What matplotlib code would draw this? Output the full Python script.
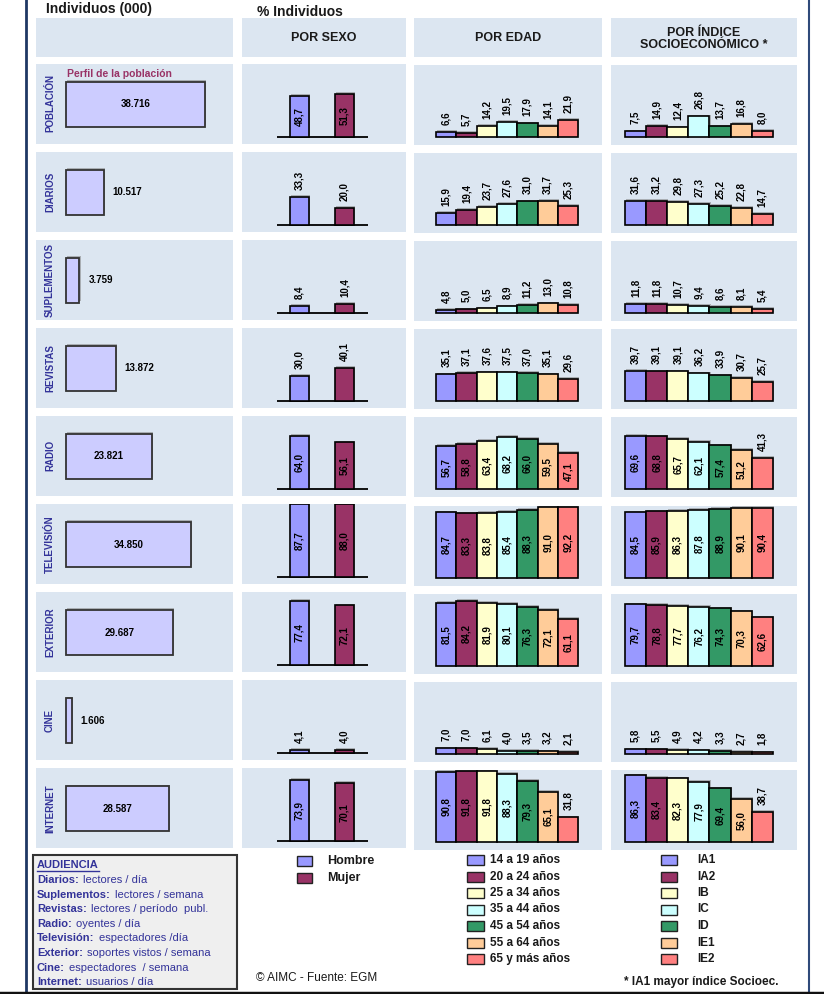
import matplotlib
matplotlib.use("Agg")
import matplotlib.pyplot as plt
from matplotlib.patches import Rectangle
from matplotlib.patheffects import SimplePatchShadow, Normal

plt.rcParams['font.family'] = ['Liberation Sans', 'DejaVu Sans']

# datos
medios = ['POBLACIÓN', 'DIARIOS', 'SUPLEMENTOS', 'REVISTAS', 'RADIO',
          'TELEVISIÓN', 'EXTERIOR', 'CINE', 'INTERNET']
individuos = [38716, 10517, 3759, 13872, 23821, 34850, 29687, 1606, 28587]

sexo_labels = ['Hombre', 'Mujer']
sexo = [
    [48.7, 51.3],
    [33.3, 20.0],
    [8.4, 10.4],
    [30.0, 40.1],
    [64.0, 56.1],
    [87.7, 88.0],
    [77.4, 72.1],
    [4.1, 4.0],
    [73.9, 70.1],
]

edad_labels = ['14 a 19 años', '20 a 24 años', '25 a 34 años', '35 a 44 años',
               '45 a 54 años', '55 a 64 años', '65 y más años']
edad = [
    [6.6, 5.7, 14.2, 19.5, 17.9, 14.1, 21.9],
    [15.9, 19.4, 23.7, 27.6, 31.0, 31.7, 25.3],
    [4.8, 5.0, 6.5, 8.9, 11.2, 13.0, 10.8],
    [35.1, 37.1, 37.6, 37.5, 37.0, 35.1, 29.6],
    [56.7, 58.8, 63.4, 68.2, 66.0, 59.5, 47.1],
    [84.7, 83.3, 83.8, 85.4, 88.3, 91.0, 92.2],
    [81.5, 84.2, 81.9, 80.1, 76.3, 72.1, 61.1],
    [7.0, 7.0, 6.1, 4.0, 3.5, 3.2, 2.1],
    [90.8, 91.8, 91.8, 88.3, 79.3, 65.1, 31.8],
]

ise_labels = ['IA1', 'IA2', 'IB', 'IC', 'ID', 'IE1', 'IE2']
ise = [
    [7.5, 14.9, 12.4, 26.8, 13.7, 16.8, 8.0],
    [31.6, 31.2, 29.8, 27.3, 25.2, 22.8, 14.7],
    [11.8, 11.8, 10.7, 9.4, 8.6, 8.1, 5.4],
    [39.7, 39.1, 39.1, 36.2, 33.9, 30.7, 25.7],
    [69.6, 68.8, 65.7, 62.1, 57.4, 51.2, 41.3],
    [84.5, 85.9, 86.3, 87.8, 88.9, 90.1, 90.4],
    [79.7, 78.8, 77.7, 76.2, 74.3, 70.3, 62.6],
    [5.8, 5.5, 4.9, 4.2, 3.3, 2.7, 1.8],
    [86.3, 83.4, 82.3, 77.9, 69.4, 56.0, 38.7],
]

aud_medio = ['Diarios:', 'Suplementos:', 'Revistas:', 'Radio:', 'Televisión:',
             'Exterior:', 'Cine:', 'Internet:']
aud_unidad = ['lectores / día', 'lectores / semana', 'lectores / período  publ.',
              'oyentes / día', 'espectadores /día', 'soportes vistos / semana',
              'espectadores  / semana', 'usuarios / día']

colores = ['#9999FF', '#993366', '#FFFFCC', '#CCFFFF', '#339966', '#FFCC99', '#FF8080']
fondo = '#DCE6F1'
azul = '#333399'
texto = '#1A1A1A'

W, H = 824, 994
fig = plt.figure(figsize=(W / 100, H / 100), dpi=100)


def px_axes(x0, y0, x1, y1):
    ax = fig.add_axes([x0 / W, 1 - y1 / H, (x1 - x0) / W, (y1 - y0) / H])
    ax.set_facecolor(fondo)
    for s in ax.spines.values():
        s.set_visible(False)
    ax.set_xticks([])
    ax.set_yticks([])
    return ax


def fmt(v):
    return f"{v:.1f}".replace('.', ',')


sombra = [SimplePatchShadow(offset=(0.8, 1.2), shadow_rgbFace='#777777', alpha=0.5), Normal()]

# capa de fondo en pixeles
bg = fig.add_axes([0, 0, 1, 1])
bg.set_xlim(0, W)
bg.set_ylim(H, 0)
bg.axis('off')

# bordes
bg.plot([26, 26], [0, 992], color='#1F3864', lw=2)
bg.plot([809, 809], [0, 992], color='#2F4A7A', lw=1.5)
bg.plot([0, W], [992.5, 992.5], color='#111111', lw=2.5)

# cabeceras
cols = [(36, 233), (242, 406), (414, 602), (611, 797)]
for (x0, x1) in cols:
    bg.add_patch(Rectangle((x0, 18), x1 - x0, 39, facecolor=fondo, edgecolor='none'))
bg.text(46, 9, 'Individuos (000)', fontsize=10, fontweight='bold', color=texto, va='center')
bg.text(257, 12, '% Individuos', fontsize=10, fontweight='bold', color=texto, va='center')
bg.text(324, 38, 'POR SEXO', fontsize=9, fontweight='bold', color=texto, ha='center', va='center')
bg.text(508, 38, 'POR EDAD', fontsize=9, fontweight='bold', color=texto, ha='center', va='center')
bg.text(704, 39, 'POR ÍNDICE\nSOCIOECONÓMICO *', fontsize=9, fontweight='bold', color=texto,
        ha='center', va='center', linespacing=1.05)

pob_px = 139  # ancho en px de la barra de poblacion
for i, medio in enumerate(medios):
    top = 63.5 + 88.1 * i

    # columna individuos
    ax = px_axes(36, top, 233, top + 80)
    u = individuos[0] / pob_px
    ax.set_xlim(-30 * u, 167 * u)
    ax.set_ylim(-0.5 - 17 / 45, 0.5 + 18 / 45)
    b = ax.barh(0, individuos[i], height=1, color='#CCCCFF', edgecolor='#333333', lw=1.3)
    b[0].set_path_effects(sombra)
    lab = f"{individuos[i]:,}".replace(',', '.')
    if individuos[i] / u > 60:
        ax.text(individuos[i] / 2, 0, lab, fontsize=7, fontweight='bold', ha='center', va='center')
    else:
        ax.text(individuos[i] + 9 * u, 0, lab, fontsize=7, fontweight='bold', ha='left', va='center')
    ax.text(14 / 197, 0.5, medio, transform=ax.transAxes, rotation=90, fontsize=7,
            fontweight='bold', color=azul, ha='center', va='center')
    if i == 0:
        ax.text(31 / 197, 1 - 10 / 80, 'Perfil de la población', transform=ax.transAxes,
                fontsize=7.5, fontweight='bold', color='#993366', ha='left', va='center')

    # columna sexo
    ax = px_axes(242, top, 406, top + 80)
    k = 0.83
    ax.set_xlim(-57.5 / 45, 1 + 61.5 / 45)
    ax.set_ylim(-7 / k, 73 / k)
    ax.hlines(0, -0.5, 1.52, color='black', lw=1.3, zorder=1)
    bars = ax.bar([0, 1], sexo[i], width=19 / 45, color=colores[:2], edgecolor='black', lw=1.2, zorder=2)
    for b in bars:
        b.set_path_effects(sombra)
    for x, v in enumerate(sexo[i]):
        if v > 45:
            ax.text(x, v / 2, fmt(v), rotation=90, fontsize=7, fontweight='bold', ha='center', va='center')
        else:
            ax.text(x, v + 7 / k, fmt(v), rotation=90, fontsize=7, fontweight='bold', ha='center', va='bottom')

    # columnas edad e indice socioeconomico
    for (x0, x1), datos, x_first, bw in [((414, 602), edad[i], 22, 20.3), ((611, 797), ise[i], 14, 21.1)]:
        ax = px_axes(x0, top + 1.5, x1, top + 81.5)
        k = 0.77
        c0 = x_first + bw / 2
        ax.set_xlim(-c0 / bw, (x1 - x0 - c0) / bw)
        ax.set_ylim(-8 / k, 72 / k)
        bars = ax.bar(range(7), datos, width=1, color=colores, edgecolor='black', lw=1.2)
        for b in bars:
            b.set_path_effects(sombra)
        for x, v in enumerate(datos):
            if v > 45:
                ax.text(x, v / 2, fmt(v), rotation=90, fontsize=7, fontweight='bold', ha='center', va='center')
            else:
                ax.text(x, v + 7 / k, fmt(v), rotation=90, fontsize=7, fontweight='bold', ha='center', va='bottom')

# leyendas
for j, lab in enumerate(sexo_labels):
    y = 861 + 17 * j
    bg.add_patch(Rectangle((297, y - 5), 15, 10, facecolor=colores[j], edgecolor='#222222', lw=1))
    bg.text(327, y, lab, fontsize=9, fontweight='bold', color=texto, va='center')
for j in range(7):
    y = 860 + 16.5 * j
    bg.add_patch(Rectangle((467, y - 5), 17, 10, facecolor=colores[j], edgecolor='#222222', lw=1))
    bg.text(490, y, edad_labels[j], fontsize=8.5, fontweight='bold', color=texto, va='center')
    bg.add_patch(Rectangle((661, y - 5), 16, 10, facecolor=colores[j], edgecolor='#222222', lw=1))
    bg.text(697, y, ise_labels[j], fontsize=8.5, fontweight='bold', color=texto, va='center')

bg.text(256, 978, '© AIMC - Fuente: EGM', fontsize=8.5, color=texto, va='center')
bg.text(624, 982, '* IA1 mayor índice Socioec.', fontsize=8.5, fontweight='bold', color=texto, va='center')

# cuadro audiencia
bg.add_patch(Rectangle((33, 855), 204, 134, facecolor='#EFEFEF', edgecolor='#333333', lw=1.5))
bg.text(37, 865, 'AUDIENCIA', fontsize=8, fontweight='bold', color=azul, va='center')
bg.plot([37, 99], [871, 871], color=azul, lw=1)
for j, (m, un) in enumerate(zip(aud_medio, aud_unidad)):
    y = 880 + 14.6 * j
    t = bg.text(37, y, m, fontsize=8, fontweight='bold', color=azul, va='center')
    bg.annotate(un, xy=(1, 0), xycoords=t, xytext=(3, 0), textcoords='offset points',
                fontsize=8, color=azul, va='bottom', ha='left')

fig.savefig('out.png', dpi=100)
